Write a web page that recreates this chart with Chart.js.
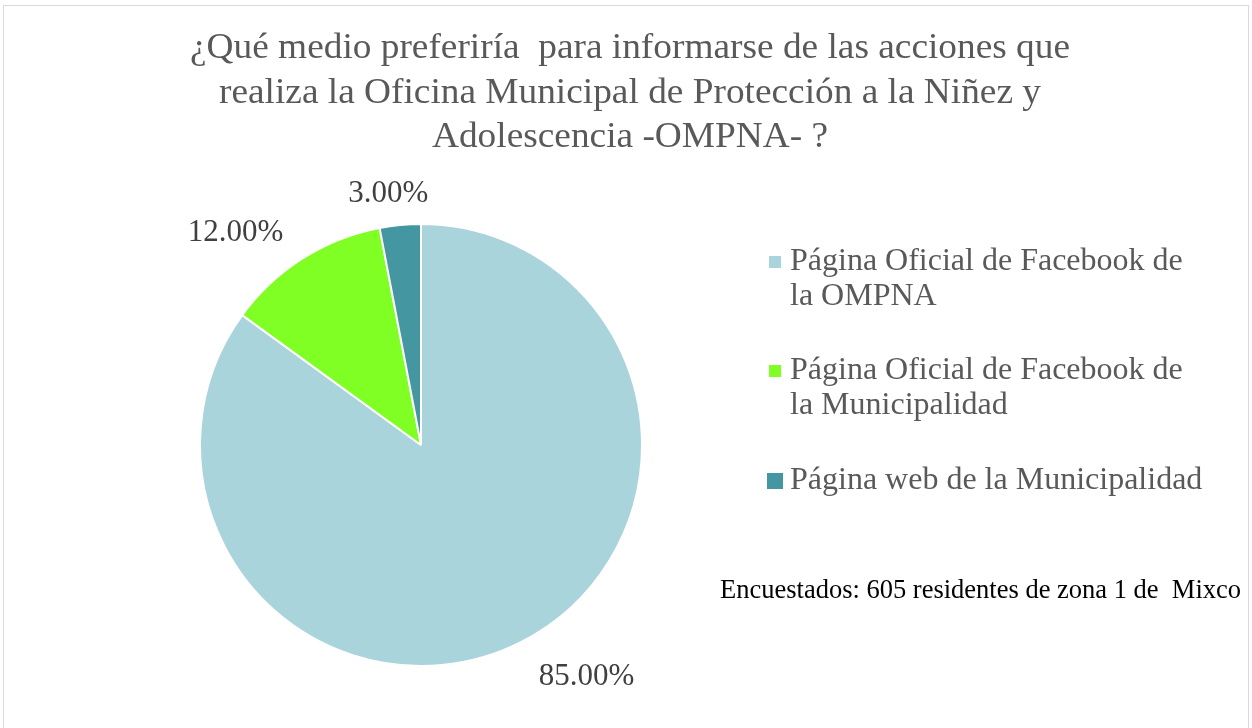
<!DOCTYPE html>
<html><head><meta charset="utf-8">
<script src="https://cdn.jsdelivr.net/npm/chart.js@4/dist/chart.umd.min.js"></script>
<style>html,body{margin:0;padding:0;background:#fff;overflow:hidden}#wrap{width:1252px;height:728px;position:relative}</style>
</head><body><div id="wrap"><canvas id="c" width="1252" height="728"></canvas></div>
<script>
const titleLines = ["¿Qué medio preferiría  para informarse de las acciones que", "realiza la Oficina Municipal de Protección a la Niñez y", "Adolescencia -OMPNA- ?"];
const categories = [["Página Oficial de Facebook de", "la OMPNA"], ["Página Oficial de Facebook de", "la Municipalidad"], ["Página web de la Municipalidad"]];
const values = [85, 12, 3];
const valueLabels = ["85.00%", "12.00%", "3.00%"];
const colors = ["#A9D4DB", "#7FFF24", "#4496A1"];
const footnote = "Encuestados: 605 residentes de zona 1 de  Mixco";

const SERIF = '"Liberation Serif", "Times New Roman", serif';

const decor = {
  id: 'decor',
  afterDraw(chart) {
    const ctx = chart.ctx;
    ctx.save();
    // frame
    ctx.strokeStyle = '#d9d9d9'; ctx.lineWidth = 1;
    ctx.strokeRect(3.5, 5.5, 1245, 740);
    // title
    ctx.fillStyle = '#595959';
    ctx.font = '35px ' + SERIF;
    ctx.textBaseline = 'alphabetic';
    ctx.textAlign = 'center';
    const sx = 880 / ctx.measureText(titleLines[0]).width;
    const baselines = [58, 102.5, 147];
    titleLines.forEach((t, i) => {
      ctx.save(); ctx.translate(630, baselines[i]); ctx.scale(sx, 1);
      ctx.fillText(t, 0, 0); ctx.restore();
    });
    // value labels
    const meta = chart.getDatasetMeta(0);
    ctx.font = '31px ' + SERIF;
    ctx.fillStyle = '#404040';
    ctx.textBaseline = 'middle';
    meta.data.forEach((arc, i) => {
      const mid = (arc.startAngle + arc.endAngle) / 2;
      const r = arc.outerRadius + 21;
      const ax = arc.x + Math.cos(mid) * r, ay = arc.y + Math.sin(mid) * r;
      const w = ctx.measureText(valueLabels[i]).width, h = 30;
      const k = Math.max(-1, Math.min(1, 2.2 * Math.cos(mid)));
      ctx.fillText(valueLabels[i], ax + k * (w / 2 + 8), ay + Math.sin(mid) * h / 2 + (Math.sin(mid) > 0 ? 3 : 5));
    });
    // legend
    ctx.font = '32px ' + SERIF;
    ctx.textAlign = 'left';
    const starts = [262, 371, 481];
    const boxes = [12, 12, 16];
    categories.forEach((lines, i) => {
      const y0 = starts[i];
      ctx.fillStyle = colors[i];
      const b = boxes[i];
      ctx.fillRect(775 - b / 2, y0 - b / 2, b, b);
      ctx.fillStyle = '#595959';
      lines.forEach((ln, j) => ctx.fillText(ln, 790, y0 + j * 35));
    });
    // footnote
    ctx.font = '26.5px ' + SERIF;
    ctx.fillStyle = '#000';
    ctx.fillText(footnote, 720, 591);
    ctx.restore();
  }
};

new Chart(document.getElementById('c'), {
  type: 'pie',
  data: {
    labels: categories,
    datasets: [{ data: values, backgroundColor: colors, borderColor: '#ffffff', borderWidth: 2 }]
  },
  options: {
    responsive: false, animation: false, devicePixelRatio: 1,
    layout: { padding: { left: 199, right: 609, top: 222, bottom: 60 } },
    plugins: { legend: { display: false }, title: { display: false }, tooltip: { enabled: false } },
    events: []
  },
  plugins: [decor]
});
</script>
</body></html>
